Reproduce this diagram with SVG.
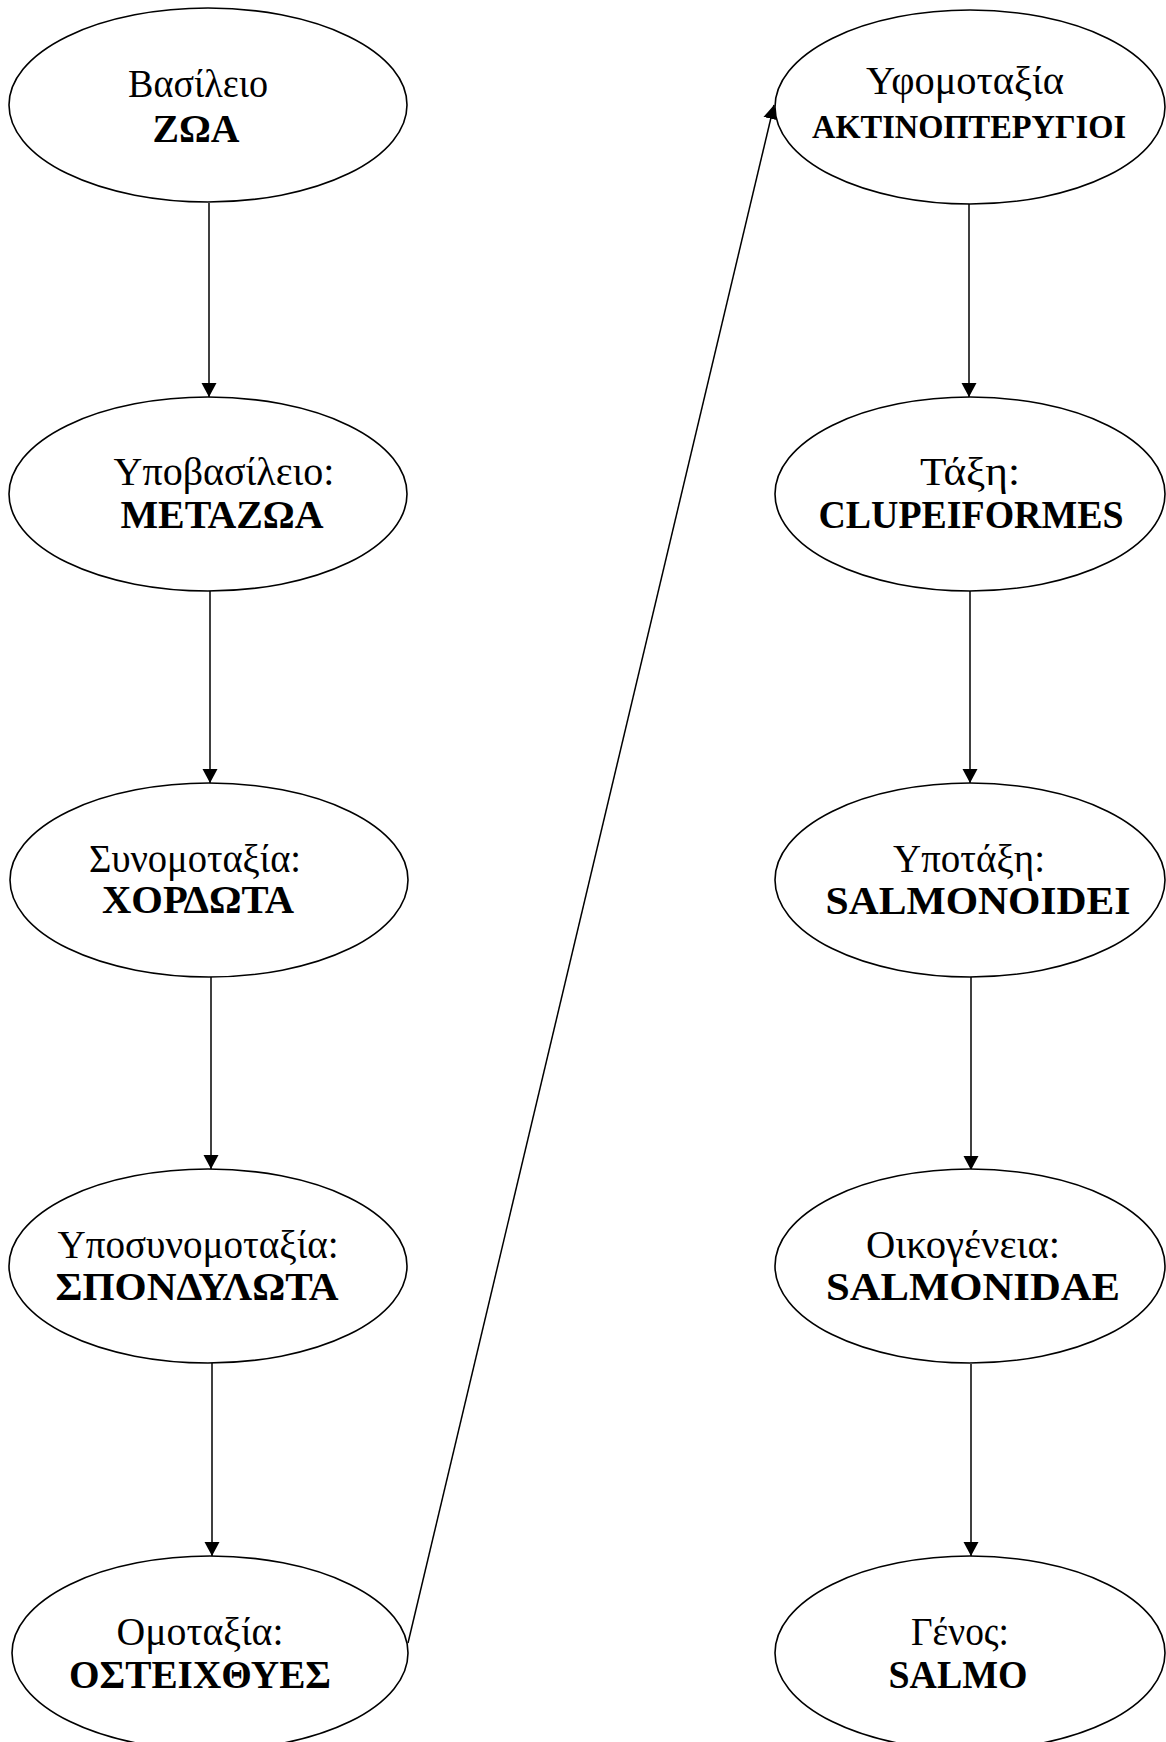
<svg xmlns="http://www.w3.org/2000/svg" width="1166" height="1742" viewBox="0 0 1166 1742">
<style>
.n ellipse{fill:#fff;stroke:#000;stroke-width:1.6}
.t1{font-family:"Liberation Serif","Times New Roman",serif;font-size:39px;text-anchor:middle;fill:#000}
.t2{font-family:"Liberation Serif","Times New Roman",serif;font-size:39px;font-weight:bold;text-anchor:middle;fill:#000}
.c line{stroke:#000;stroke-width:1.5;marker-end:url(#ah)}
</style>
<defs>
<marker id="ah" markerUnits="userSpaceOnUse" markerWidth="15" markerHeight="16" refX="14" refY="7.5" orient="auto" viewBox="0 0 15 15">
<path d="M0,0 L14,7.5 L0,15 z" fill="#000"/>
</marker>
</defs>
<rect width="1166" height="1742" fill="#fff"/>
<g class="c" id="connectors">
<line x1="209" y1="203" x2="209" y2="397"/>
<line x1="210" y1="591" x2="210" y2="783"/>
<line x1="211" y1="977" x2="211" y2="1169"/>
<line x1="212" y1="1363" x2="212" y2="1556"/>
<line x1="969" y1="204" x2="969" y2="397"/>
<line x1="970" y1="591" x2="970" y2="783"/>
<line x1="971" y1="977" x2="971" y2="1170"/>
<line x1="971" y1="1364" x2="971" y2="1556"/>
<line x1="408" y1="1643" x2="774" y2="105"/>
</g>
<g class="n" id="n-zoa"><ellipse cx="208" cy="105" rx="199" ry="97"/><text class="t1" x="198" y="97" textLength="140" lengthAdjust="spacingAndGlyphs">Βασίλειο</text><text class="t2" x="196" y="142" textLength="87" lengthAdjust="spacingAndGlyphs">ΖΩΑ</text></g>
<g class="n" id="n-metazoa"><ellipse cx="208" cy="494" rx="199" ry="97"/><text class="t1" x="224" y="485" textLength="221" lengthAdjust="spacingAndGlyphs">Υποβασίλειο:</text><text class="t2" x="222" y="528" textLength="203" lengthAdjust="spacingAndGlyphs">ΜΕΤΑΖΩΑ</text></g>
<g class="n" id="n-chordota"><ellipse cx="209" cy="880" rx="199" ry="97"/><text class="t1" x="195" y="872" textLength="212" lengthAdjust="spacingAndGlyphs">Συνομοταξία:</text><text class="t2" x="198" y="913" textLength="192" lengthAdjust="spacingAndGlyphs">ΧΟΡΔΩΤΑ</text></g>
<g class="n" id="n-spondylota"><ellipse cx="208" cy="1266" rx="199" ry="97"/><text class="t1" x="198" y="1258" textLength="281" lengthAdjust="spacingAndGlyphs">Υποσυνομοταξία:</text><text class="t2" x="197" y="1300" textLength="283" lengthAdjust="spacingAndGlyphs">ΣΠΟΝΔΥΛΩΤΑ</text></g>
<g class="n" id="n-osteichthyes"><ellipse cx="210" cy="1653" rx="198" ry="97"/><text class="t1" x="200" y="1645" textLength="167" lengthAdjust="spacingAndGlyphs">Ομοταξία:</text><text class="t2" x="200" y="1688" textLength="262" lengthAdjust="spacingAndGlyphs">ΟΣΤΕΙΧΘΥΕΣ</text></g>
<g class="n" id="n-aktinopterygioi"><ellipse cx="970" cy="107" rx="195" ry="97"/><text class="t1" x="965" y="94" textLength="198" lengthAdjust="spacingAndGlyphs">Υφομοταξία</text><text class="t2" x="969" y="138" style="font-size:34px" textLength="314" lengthAdjust="spacingAndGlyphs">ΑΚΤΙΝΟΠΤΕΡΥΓΙΟΙ</text></g>
<g class="n" id="n-clupeiformes"><ellipse cx="970" cy="494" rx="195" ry="97"/><text class="t1" x="970" y="485" textLength="100" lengthAdjust="spacingAndGlyphs">Τάξη:</text><text class="t2" x="971" y="528" textLength="305" lengthAdjust="spacingAndGlyphs">CLUPEIFORMES</text></g>
<g class="n" id="n-salmonoidei"><ellipse cx="970" cy="880" rx="195" ry="97"/><text class="t1" x="969" y="872" textLength="152" lengthAdjust="spacingAndGlyphs">Υποτάξη:</text><text class="t2" x="978" y="914" textLength="305" lengthAdjust="spacingAndGlyphs">SALMONOIDEI</text></g>
<g class="n" id="n-salmonidae"><ellipse cx="970" cy="1266" rx="195" ry="97"/><text class="t1" x="963" y="1258" textLength="194" lengthAdjust="spacingAndGlyphs">Οικογένεια:</text><text class="t2" x="973" y="1300" textLength="294" lengthAdjust="spacingAndGlyphs">SALMONIDAE</text></g>
<g class="n" id="n-salmo"><ellipse cx="970" cy="1653" rx="195" ry="97"/><text class="t1" x="960" y="1645" textLength="98" lengthAdjust="spacingAndGlyphs">Γένος:</text><text class="t2" x="958" y="1688" textLength="139" lengthAdjust="spacingAndGlyphs">SALMO</text></g>
</svg>
